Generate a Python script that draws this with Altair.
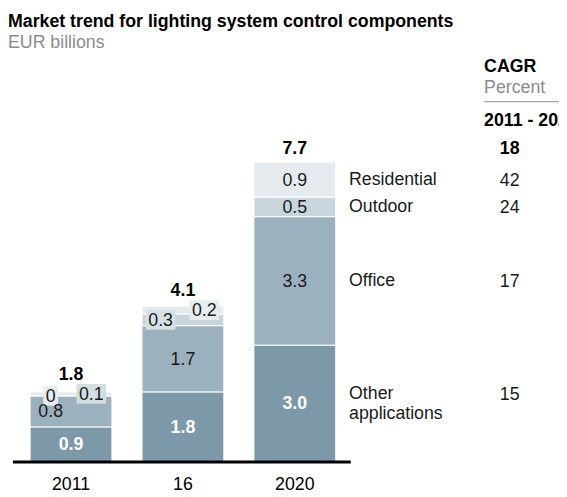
import altair as alt
import pandas as pd

# ---------------- data ----------------
years = ["2011", "16", "2020"]
segments = ["Other applications", "Office", "Outdoor", "Residential"]
other = [0.9, 1.8, 3.0]
office = [0.8, 1.7, 3.3]
outdoor = [0.0, 0.3, 0.5]
residential = [0.1, 0.2, 0.9]
totals = ["1.8", "4.1", "7.7"]
segment_names = ["Other\napplications", "Office", "Outdoor", "Residential"]
cagr = [15, 17, 24, 42]          # same order as segments
cagr_total = 18
cagr_header = ["CAGR", "Percent", "2011 - 2020"]

seg_colors = ["#7d98a9", "#9bb1bd", "#c9d5dc", "#e4eaee"]
box_colors = {
    ("2011", "Outdoor"): "#e6ecef",
    ("2011", "Residential"): "#d3dde2",
    ("16", "Outdoor"): "#d6e0e5",
    ("16", "Residential"): "#e6ecef",
}

# ---------------- layout constants (pixels) ----------------
W, H = 559, 439          # plot group size
PAD_TOP = 50
XS = 115.6               # px per category
X0 = -0.519              # left edge in category units
YS = 39.5                # px per EUR bn
BASE = 407               # y pixel of zero inside group
FONT = "Liberation Sans"
FS = 18
TOTAL_GAP = 13           # px between bar top and total label
BOX_HALF = 10            # half height of label boxes
BOX_GAP = 9              # px between box top and total label

xdom = [X0, X0 + W / XS]
ydom = [-(H - BASE) / YS, BASE / YS]

# label x offsets (px) for small segments in the first two bars
label_dx = {
    ("2011", "Office"): -21,
    ("2011", "Outdoor"): -21,
    ("2011", "Residential"): 21,
    ("16", "Outdoor"): -23,
    ("16", "Residential"): 22,
}

rows = []
series = [other, office, outdoor, residential]
for i, y in enumerate(years):
    base = 0.0
    for k, seg in enumerate(segments):
        v = series[k][i]
        lab = "0" if v == 0 else f"{v:.1f}"
        dx = label_dx.get((y, seg), 0)
        w = 15 if len(lab) == 1 else 30
        rows.append(dict(
            year=y, idx=i, segment=seg, ord=k, value=v,
            mid=base + v / 2, label=lab,
            lx=i + dx / XS,
            boxed=(y, seg) in box_colors,
            boxcolor=box_colors.get((y, seg), "#ffffff"),
            shape=f"M-{w/30:.3f},-0.667H{w/30:.3f}V0.667H-{w/30:.3f}Z",
        ))
        base += v
df = pd.DataFrame(rows)

tot_vals = [sum(s[i] for s in series) for i in range(len(years))]
lab_y = []
for i, y in enumerate(years):
    cand = tot_vals[i] + TOTAL_GAP / YS
    bm = df[(df.year == y) & df.boxed]["mid"]
    if len(bm):
        cand = max(cand, bm.max() + (BOX_HALF + BOX_GAP) / YS)
    lab_y.append(cand)

tot_df = pd.DataFrame({
    "idx": list(range(len(years))),
    "year": years,
    "total": tot_vals,
    "laby": lab_y,
    "label": totals,
})

last = df[df.year == years[-1]].copy()
last["name"] = segment_names
last["cagr"] = [str(c) for c in cagr]
last["two"] = last["name"].str.contains("\n")

xs = alt.Scale(domain=xdom)
ys = alt.Scale(domain=ydom, zero=False, nice=False)
X = lambda f: alt.X(f, type="quantitative", scale=xs, axis=None)
Y = lambda f: alt.Y(f, type="quantitative", scale=ys, axis=None)

bars = alt.Chart(df).mark_bar(size=83, stroke="white", strokeWidth=1).encode(
    x=X("idx"),
    y=alt.Y("value:Q", scale=ys, axis=None, stack="zero"),
    color=alt.Color("segment:N", scale=alt.Scale(domain=segments, range=seg_colors), legend=None),
    order=alt.Order("ord:Q"),
)

boxes = alt.Chart(df[df.boxed]).mark_point(filled=True, size=900, opacity=1, strokeWidth=0).encode(
    x=X("lx"), y=Y("mid"),
    shape=alt.Shape("shape:N", scale=None),
    color=alt.Color("boxcolor:N", scale=None),
)

txt_other = alt.Chart(df[df.segment == "Other applications"]).mark_text(
    font=FONT, fontSize=FS, fontWeight="bold", color="white", baseline="middle", dy=1
).encode(x=X("lx"), y=Y("mid"), text="label:N")

txt_rest = alt.Chart(df[df.segment != "Other applications"]).mark_text(
    font=FONT, fontSize=FS, color="#1a1a1a", baseline="middle", dy=1
).encode(x=X("lx"), y=Y("mid"), text="label:N")

txt_tot = alt.Chart(tot_df).mark_text(
    font=FONT, fontSize=FS, fontWeight="bold", color="black", baseline="middle"
).encode(x=X("idx"), y=Y("laby"), text="label:N")

txt_year = alt.Chart(tot_df).mark_text(
    font=FONT, fontSize=FS, color="black", baseline="middle", dy=23
).encode(x=X("idx"), y=alt.Y("zero:Q", scale=ys, axis=None), text="year:N").transform_calculate(zero="0")

baseline = alt.Chart(pd.DataFrame({"a": [X0], "b": [2.5], "y": [0.0]})).mark_rule(
    color="black", strokeWidth=3
).encode(x=X("a"), x2="b", y=Y("y"))

name_style = dict(font=FONT, fontSize=FS, color="#1a1a1a", align="left", baseline="middle",
                  lineBreak="\n", lineHeight=21)
names1 = alt.Chart(last[~last.two]).mark_text(**name_style).encode(
    x=alt.value(346), y=Y("mid"), text="name:N")
names2 = alt.Chart(last[last.two]).mark_text(dy=-10, **name_style).encode(
    x=alt.value(346), y=Y("mid"), text="name:N")

cagr_style = dict(font=FONT, fontSize=FS, color="#1a1a1a", align="center", baseline="middle")
cagr1 = alt.Chart(last[~last.two]).mark_text(dy=1, **cagr_style).encode(
    x=alt.value(509), y=Y("mid"), text="cagr:N")
cagr2 = alt.Chart(last[last.two]).mark_text(dy=-9, **cagr_style).encode(
    x=alt.value(509), y=Y("mid"), text="cagr:N")

cagr_tot = alt.Chart(tot_df[tot_df.year == years[-1]].assign(c=str(cagr_total))).mark_text(
    font=FONT, fontSize=FS, fontWeight="bold", color="black", align="center", baseline="middle"
).encode(x=alt.value(509), y=Y("laby"), text="c:N")

hdr1 = alt.Chart(pd.DataFrame({"t": [cagr_header[0]]})).mark_text(
    font=FONT, fontSize=FS, fontWeight="bold", color="black", align="left", baseline="middle"
).encode(x=alt.value(483), y=alt.value(6.5), text="t:N")
hdr2 = alt.Chart(pd.DataFrame({"t": [cagr_header[1]]})).mark_text(
    font=FONT, fontSize=FS, color="#8c8c8c", align="left", baseline="middle"
).encode(x=alt.value(483), y=alt.value(28), text="t:N")
hdr_line = alt.Chart(pd.DataFrame({"t": [0]})).mark_rule(color="#8c8c8c", strokeWidth=1).encode(
    x=alt.value(483), x2=alt.value(W), y=alt.value(41.5)
)
hdr3 = alt.Chart(pd.DataFrame({"t": [cagr_header[2]]})).mark_text(
    font=FONT, fontSize=FS, fontWeight="bold", color="black", align="left", baseline="middle"
).encode(x=alt.value(483), y=alt.value(61), text="t:N")

chart = alt.layer(
    bars, boxes, txt_other, txt_rest, txt_tot, txt_year, baseline,
    names1, names2, cagr1, cagr2, cagr_tot, hdr1, hdr2, hdr_line, hdr3,
).properties(
    width=W, height=H,
    title=alt.Title(
        text="Market trend for lighting system control components",
        subtitle="EUR billions",
        anchor="start", frame="group", offset=6,
        font=FONT, fontSize=FS, fontWeight="bold", color="black",
        subtitleFont=FONT, subtitleFontSize=FS, subtitleColor="#8c8c8c", subtitlePadding=4,
    ),
    autosize=alt.AutoSizeParams(type="none"),
    padding={"left": 0, "top": PAD_TOP, "right": 0, "bottom": 0},
).configure_view(stroke=None)

chart.save("out.html", embed_options={"renderer": "svg", "actions": False})
